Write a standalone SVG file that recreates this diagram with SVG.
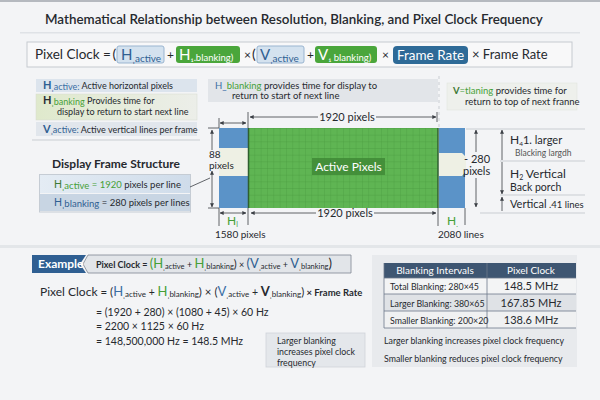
<svg xmlns="http://www.w3.org/2000/svg" width="600" height="400" viewBox="0 0 600 400">
<defs>
<style>
text{font-family:Lato,"Open Sans","Liberation Sans",sans-serif;fill:#26292e}
.t{font-size:13.4px;font-weight:600}
.s9{font-size:9px}.s10{font-size:10px}.s11{font-size:11px}.s12{font-size:12px}.s13{font-size:13px}.s14{font-size:14px}
.w{fill:#fff}.g{fill:#46a037}.b{fill:#2f5f92}.d{fill:#2a2d33}.m{fill:#555}
.ln{stroke:#3b3f45;stroke-width:0.8;fill:none}
.lt{stroke:#c9cdd2;stroke-width:1;fill:none}
</style>
<pattern id="grid" width="6.33" height="6.67" patternUnits="userSpaceOnUse" x="248" y="128">
<rect width="6.33" height="6.67" fill="#5fb553"/>
<path d="M0,0H6.33M0,0V6.67" stroke="#4b9a3f" stroke-width="0.7"/>
</pattern>
<linearGradient id="gr2" x1="0" x2="1"><stop offset="0" stop-color="#dfe9cc"/><stop offset="1" stop-color="#eceee9"/></linearGradient>
<linearGradient id="gr3" x1="0" x2="1"><stop offset="0" stop-color="#e4ecf4"/><stop offset="1" stop-color="#cfdcea"/></linearGradient>
<marker id="ah" viewBox="0 0 6 6" refX="5.5" refY="3" markerWidth="5" markerHeight="5" orient="auto-start-reverse"><path d="M0,0L6,3L0,6Z" fill="#3b3f45"/></marker>
</defs>
<rect width="600" height="400" fill="#f3f4f6"/>
<rect width="600" height="2" fill="#b5b9bf"/>
<text class="t" x="45" y="24">Mathematical Relationship between Resolution, Blanking, and Pixel Clock Frequency</text>
<rect x="20" y="32" width="560" height="1.5" fill="#dfe2e6"/>

<g id="formula">
<rect x="27" y="42" width="545" height="25" fill="#f8f8f9" stroke="#c6cacf"/>
<text font-size="13.5" x="35" y="59">Pixel Clock =</text>
<text class="s14" x="112.5" y="59" fill="#5d7fa3">(</text>
<rect x="117" y="46" width="47" height="17" rx="2" fill="#d4e2ef" stroke="#9ab5d0"/>
<text x="121" y="60"><tspan font-size="15" class="b">H</tspan><tspan font-size="10" class="b" dy="2">ˌactive</tspan></text>
<text class="s12" x="167" y="59">+</text>
<rect x="176" y="46" width="64" height="17" rx="3" fill="#4aa63b"/>
<text x="179" y="60"><tspan font-size="15" class="w">H</tspan><tspan font-size="9.5" class="w" dy="1">₁.blanking)</tspan></text>
<text class="s12" x="244" y="59">×</text>
<text class="s14" x="252" y="59" fill="#5d7fa3">(</text>
<rect x="257" y="46" width="47" height="17" rx="2" fill="#d4e2ef" stroke="#9ab5d0"/>
<text x="260" y="60"><tspan font-size="15" class="b">V</tspan><tspan font-size="10" class="b" dy="2">ˌactive</tspan></text>
<text class="s12" x="307" y="59">+</text>
<rect x="315" y="46" width="62" height="17" rx="3" fill="#4aa63b"/>
<text x="318" y="60"><tspan font-size="15" class="w">V</tspan><tspan font-size="9.5" class="w" dy="1">₁ blanking)</tspan></text>
<text class="s12" x="382" y="59">×</text>
<rect x="393" y="46" width="75" height="18" rx="4" fill="#2e6a97"/>
<text class="w" font-size="13.5" x="430.5" y="60" text-anchor="middle">Frame Rate</text>
<text class="s13" x="472" y="59">× Frame Rate</text>
</g>

<g id="legend">
<rect x="36" y="79" width="161" height="13" fill="#dce4ed"/>
<text x="43" y="89"><tspan class="s11 b" font-weight="700">H</tspan><tspan class="s9" fill="#3a6ea5" dy="1">ˌactive:</tspan><tspan class="s9" dy="-1"> Active horizontal pixels</tspan></text>
<rect x="36" y="94" width="161" height="26" fill="url(#gr2)" stroke="#d6dad0" stroke-width="0.5"/>
<text x="43" y="104"><tspan class="s11 d" font-weight="700">H</tspan><tspan class="s9 g" dy="1">ˌbanking</tspan><tspan class="s9" dy="-1"> Provides time for</tspan></text>
<text class="s9" x="57" y="115">display to return to start  next line</text>
<rect x="36" y="122" width="161" height="14" fill="#e1e6ec"/>
<text x="43" y="133"><tspan class="s11 b" font-weight="700">V</tspan><tspan class="s9 b">ˌactive:</tspan><tspan class="s9"> Active vertical lines per frame</tspan></text>
<line class="lt" x1="32" y1="140" x2="200" y2="140"/>
</g>

<g id="frame-structure">
<text font-size="12" x="52" y="168" font-weight="700">Display Frame Structure</text>
<rect x="39.5" y="174.5" width="151" height="37.5" fill="none" stroke="#c5ccd4"/>
<rect x="40" y="175" width="150" height="18" fill="url(#gr3)"/>
<text x="54" y="188"><tspan font-size="10.5" fill="#3d7a36">H</tspan><tspan font-size="9.5" class="g" dy="1">ˌactive</tspan><tspan font-size="9.5" class="g" dy="-1"> = 1920</tspan><tspan font-size="9.5"> pixels per line</tspan></text>
<rect x="40" y="194" width="150" height="17" fill="#c8d5e3"/>
<text x="54" y="206"><tspan font-size="10.5" class="b">H</tspan><tspan font-size="9.5" class="b" dy="1">ˌblanking</tspan><tspan font-size="9.5" dy="-1"> = 280 pixels per lines</tspan></text>
</g>

<g id="hblank-note">
<rect x="208" y="79" width="230" height="23" fill="#e2e5e9"/>
<text font-size="9.5" x="215" y="89"><tspan fill="#3a6ea5">H_</tspan><tspan class="g">blanking</tspan> provides time for display to</text>
<text font-size="9.5" x="232" y="99">return to start of next line</text>
</g>

<g id="vblank-note">
<rect x="447" y="83" width="130" height="27" fill="#eef0ec" stroke="#dfe2dc" stroke-width="0.5"/>
<text font-size="9.5" x="453" y="94"><tspan fill="#3d7a36" font-weight="700">V</tspan><tspan class="g">=tlaning</tspan> provides time for</text>
<text font-size="9.5" x="465" y="105">return to top of  next franne</text>
</g>

<g id="frame">
<rect x="219" y="128" width="29" height="80" fill="#5b93c8"/>
<rect x="219" y="148" width="29" height="28" fill="#eef0e4"/>
<rect x="248" y="128" width="190" height="80" fill="url(#grid)"/>
<line x1="248.5" y1="128" x2="248.5" y2="208" stroke="#2f5f2f" stroke-width="1.5"/>
<line x1="438" y1="128" x2="438" y2="208" stroke="#2f5f2f" stroke-width="1.5"/>
<rect x="439" y="128" width="26" height="80" fill="#5b93c8"/>
<path d="M439,153H462L466,157V171L462,176H439Z" fill="#eef0e4"/>
<rect x="312" y="158" width="73" height="17" fill="#3f8a36" opacity="0.85"/>
<text class="s12 w" x="348.5" y="171" text-anchor="middle">Active Pixels</text>
</g>

<g id="right-labels">
<line class="lt" x1="466" y1="129" x2="585" y2="129"/>
<line class="lt" x1="500" y1="161" x2="585" y2="161"/>
<line class="lt" x1="500" y1="195" x2="585" y2="195"/>
<line class="lt" x1="480" y1="213" x2="585" y2="213"/>
<text x="510" y="144"><tspan font-size="12">H</tspan><tspan font-size="6.5" dy="2">4</tspan><tspan font-size="11" dy="-2">1. larger</tspan></text>
<text font-size="8.5" class="m" x="515" y="156">Blacking largdh</text>
<text x="510" y="178"><tspan font-size="12">H</tspan><tspan font-size="7" dy="2">2</tspan><tspan font-size="12" dy="-2"> Vertical</tspan></text>
<text font-size="10.5" x="510" y="191">Back porch</text>
<text x="510" y="208"><tspan font-size="11">Vertical</tspan><tspan font-size="9.5"> .41 lines</tspan></text>
<text class="s11" x="464" y="163">- 280</text>
<text class="s11" x="463" y="175">pixels</text>
<text class="s10" x="209" y="158">88</text>
<text class="s10" x="209" y="169">pixels</text>
<text class="s11" x="347" y="121" text-anchor="middle">1920 pixels</text>
<text class="s11" x="345" y="217" text-anchor="middle">1920 pixels</text>
<text x="227" y="225"><tspan font-size="12" class="g">H</tspan><tspan font-size="7" class="g" dy="2">l</tspan></text>
<text class="s10" x="215" y="238">1580 pixels</text>
<text x="447" y="225"><tspan font-size="12" class="g">H</tspan><tspan font-size="7" class="g" dy="2">.</tspan></text>
<text class="s10" x="438" y="238">2080 lines</text>
</g>

<g id="connectors">
<line class="ln" x1="190" y1="187" x2="210" y2="178"/>
<line class="ln" x1="212" y1="150" x2="212" y2="130" marker-end="url(#ah)"/>
<line class="ln" x1="212" y1="171" x2="212" y2="207" marker-start="url(#ah)" marker-end="url(#ah)"/>
<line class="ln" x1="208" y1="208" x2="219" y2="208"/>
<line class="ln" x1="208" y1="128" x2="219" y2="128"/>
<line class="ln" x1="220" y1="123" x2="246" y2="123" marker-start="url(#ah)" marker-end="url(#ah)"/>
<line class="ln" x1="219" y1="118" x2="219" y2="128"/>
<line class="ln" x1="248" y1="112" x2="248" y2="128"/>
<line class="ln" x1="250" y1="117" x2="318" y2="117" marker-start="url(#ah)"/>
<line class="ln" x1="376" y1="117" x2="436" y2="117" marker-end="url(#ah)"/>
<line class="ln" x1="437" y1="112" x2="437" y2="122"/>
<line class="lt" x1="439" y1="76" x2="439" y2="127" stroke-dasharray="3,3" stroke="#9a9ea4"/>
<line class="ln" x1="220" y1="213" x2="246" y2="213" marker-start="url(#ah)" marker-end="url(#ah)"/>
<line class="ln" x1="251" y1="213" x2="316" y2="213" marker-start="url(#ah)"/>
<line class="ln" x1="374" y1="213" x2="436" y2="213" marker-end="url(#ah)"/>
<line class="ln" x1="219" y1="208" x2="219" y2="226"/>
<line class="ln" x1="248" y1="208" x2="248" y2="225"/>
<line class="ln" x1="438" y1="208" x2="438" y2="226"/>
<line class="ln" x1="465" y1="208" x2="465" y2="225"/>
<line class="ln" x1="476" y1="152" x2="476" y2="130" marker-end="url(#ah)"/>
<line class="ln" x1="476" y1="178" x2="476" y2="207" marker-end="url(#ah)"/>
<line class="ln" x1="502" y1="160" x2="502" y2="130" marker-end="url(#ah)"/>
<line class="ln" x1="502" y1="162" x2="502" y2="194" marker-end="url(#ah)"/>
<line class="ln" x1="502" y1="211" x2="502" y2="197" marker-end="url(#ah)"/>
</g>

<rect x="0" y="245" width="600" height="3" fill="#e3e6e9"/>

<g id="example-bar">
<path d="M88,255H351V273H88L83,264Z" fill="#e2e5e9" stroke="#7d8793" stroke-width="0.8"/>
<path d="M32,255H86L80,264L86,273H32Z" fill="#2f5f92"/>
<text class="s12 w" x="38" y="268" font-weight="700">Example</text>
<text x="96" y="268"><tspan font-size="9" font-weight="700">Pixel Clock = </tspan><tspan font-size="13" class="g">(H</tspan><tspan font-size="7.5" dy="1">ˌactive</tspan><tspan font-size="9" dy="-1"> + </tspan><tspan font-size="13" class="g">H</tspan><tspan font-size="7.5" dy="1">ˌblanking</tspan><tspan font-size="11" dy="-1">)</tspan><tspan font-size="9"> × </tspan><tspan font-size="13" class="b">(V</tspan><tspan font-size="7.5" dy="1">ˌactive</tspan><tspan font-size="9" dy="-1"> + </tspan><tspan font-size="13" class="b">V</tspan><tspan font-size="7.5" dy="1">ˌblanking</tspan><tspan font-size="13" dy="-1">)</tspan></text>
</g>

<g id="calc">
<text x="40" y="296"><tspan font-size="12">Pixel Clock</tspan><tspan font-size="11.5"> = (</tspan><tspan font-size="13" fill="#3a6ea5">H</tspan><tspan font-size="8" dy="1">ˌactive</tspan><tspan font-size="10.5" dy="-1"> + </tspan><tspan font-size="13" class="g">H</tspan><tspan font-size="8" dy="1">ˌblanking</tspan><tspan font-size="11.5" dy="-1">) × (</tspan><tspan font-size="13" fill="#3a6ea5">V</tspan><tspan font-size="8" dy="1">ˌactive</tspan><tspan font-size="10.5" dy="-1"> + </tspan><tspan font-size="13" font-weight="700">V</tspan><tspan font-size="8" dy="1">ˌblanking</tspan><tspan font-size="11.5" dy="-1">)</tspan><tspan font-size="9.5" font-weight="700"> × Frame Rate</tspan></text>
<text font-size="10.5" x="96" y="316">= (1920 + 280) × (1080 + 45) × 60 Hz</text>
<text font-size="10.5" x="96" y="330">= 2200 × 1125 × 60 Hz</text>
<text font-size="10.5" x="96" y="345">= 148,500,000 Hz  =  148.5 MHz</text>
<rect x="266" y="333" width="99" height="34" fill="#e4e7eb" stroke="#cfd4da" stroke-width="0.8"/>
<text font-size="8.8" x="277" y="344">Larger blanking</text>
<text font-size="8.8" x="277" y="355">increases pixel clock</text>
<text font-size="8.8" x="277" y="366">frequency</text>
</g>

<g id="table">
<rect x="372" y="255" width="205" height="112" fill="#e8eaed"/>
<rect x="384" y="263" width="192" height="15" fill="#3e5672"/>
<rect x="384" y="278" width="192" height="16" fill="#f3f4f5"/>
<rect x="384" y="294" width="192" height="17" fill="#dfe2e6"/>
<rect x="384" y="311" width="192" height="17" fill="#f0f1f2"/>
<path d="M384,263V328H576M384,278H576M384,294H576M384,311H576M487,263V328" fill="none" stroke="#6c7a8a" stroke-width="0.8"/>
<text class="s10 w" x="435" y="274" text-anchor="middle">Blanking Intervals</text>
<text class="s10 w" x="531" y="274" text-anchor="middle">Pixel Clock</text>
<text font-size="8.8" x="390" y="290">Total Blanking: 280×45</text>
<text font-size="8.8" x="390" y="307">Larger Blanking: 380×65</text>
<text font-size="8.8" x="390" y="324">Smaller Blanking: 200×20</text>
<text class="s11" x="531" y="290" text-anchor="middle">148.5 MHz</text>
<text class="s11" x="531" y="307" text-anchor="middle">167.85 MHz</text>
<text class="s11" x="531" y="324" text-anchor="middle">138.6 MHz</text>
<text font-size="8.8" x="384" y="344">Larger blanking increases pixel clock frequency</text>
<text font-size="8.8" x="384" y="362">Smaller blanking reduces pixel clock frequency</text>
</g>
</svg>
